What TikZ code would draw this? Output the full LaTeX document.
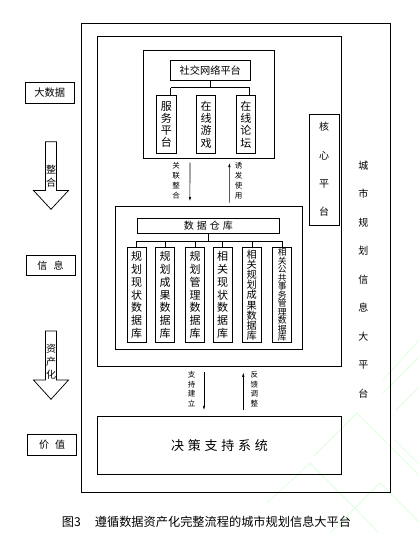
\documentclass[tikz,border=0pt]{standalone}
\usepackage{fontspec}
\setmainfont{Noto Sans CJK SC}
\usetikzlibrary{arrows.meta,calc}
\begin{document}
\begin{tikzpicture}[x=1pt,y=-1pt,
  box/.style={draw, line width=0.75pt, inner sep=0pt, align=center, anchor=center},
  txt/.style={inner sep=0pt, align=center},
  conn/.style={line width=0.6pt},
  arr/.style={line width=0.6pt, -{Latex[length=4.5pt,width=2.4pt]}},
  blockarrow/.style={draw, line width=0.75pt, fill=white},
  wm/.style={draw=green!18, line width=0.5pt}
]
\useasboundingbox (0,0) rectangle (419,533);
\fill[white] (0,0) rectangle (419,533);

% watermark
\draw[wm] (313.3,456.7) -- (356.7,413.3) -- (419,475.6);
\draw[wm] (266.7,503.3) -- (310,463.3) -- (356.7,510) -- (379,533);
\draw[wm] (330,533) -- (380,483) -- (419,522);
\draw[wm] (383,393) -- (419,357);
\draw[wm] (396,410) -- (419,387);
\draw[wm] (383,380) -- (419,340);
\draw[wm] (395,440) -- (419,464);

% outer platform frame
\node[box, minimum width=308.3, minimum height=469] (outer) at (235.85,257.8) {};
\node[box, minimum width=244.7, minimum height=330] (plat) at (219.35,201) {};

% social network group
\node[box, minimum width=131, minimum height=107.6] (social) at (208.8,104.5) {};
\node[box, minimum width=79.3, minimum height=20.7, font=\fontsize{10.2}{12}\selectfont] (sn) at (210.3,70.3) {社交网络平台};
\node[box, minimum width=19.5, minimum height=57.5, font=\fontsize{11}{12.3}\selectfont] (s1) at (166.3,124.5) {服\\务\\平\\台};
\node[box, minimum width=19.5, minimum height=57.5, font=\fontsize{11}{12.3}\selectfont] (s2) at (206,124.5) {在\\线\\游\\戏};
\node[box, minimum width=19.5, minimum height=57.5, font=\fontsize{11}{12.3}\selectfont] (s3) at (245.8,124.5) {在\\线\\论\\坛};
\coordinate (busL) at (170.7,87.7);
\coordinate (busR) at (249.7,87.7);
\draw[conn] (busL) -- (busR);
\draw[conn] (sn.south) -- (sn.south |- busL);
\draw[conn] (busL) -- (busL |- s1.north);
\draw[conn] (busR) -- (busR |- s3.north);

% core platform
\node[box, minimum width=29.7, minimum height=111, font=\fontsize{10}{28.3}\selectfont] (core) at (324.2,169.5) {核\\心\\平\\台};

% city vertical title
\node[txt, font=\fontsize{10}{28.45}\selectfont] (city) at (363.3,279.5) {城\\市\\规\\划\\信\\息\\大\\平\\台};

% data warehouse group
\node[box, minimum width=187.3, minimum height=143.3] (dw) at (208.7,277.7) {};
\node[box, minimum width=142, minimum height=15, font=\fontsize{10}{12}\selectfont] (dwt) at (208.3,225.8) {数\hspace{3pt}据\hspace{3pt}仓\hspace{3pt}库};
\node[box, minimum width=19, minimum height=95.4, font=\fontsize{11}{12.8}\selectfont] (d1) at (136.7,295) {规\\划\\现\\状\\数\\据\\库};
\node[box, minimum width=19, minimum height=95.4, font=\fontsize{11}{12.8}\selectfont] (d2) at (165.2,295) {规\\划\\成\\果\\数\\据\\库};
\node[box, minimum width=19, minimum height=95.4, font=\fontsize{11}{12.8}\selectfont] (d3) at (195.2,295) {规\\划\\管\\理\\数\\据\\库};
\node[box, minimum width=19, minimum height=95.4, font=\fontsize{11}{12.8}\selectfont] (d4) at (222.5,295) {相\\关\\现\\状\\数\\据\\库};
\node[box, minimum width=19, minimum height=95.4, font=\fontsize{10.2}{10.2}\selectfont] (d5) at (251.8,295) {相\\关\\规\\划\\成\\果\\数\\据\\库};
\node[box, minimum width=19, minimum height=95.4, font=\fontsize{8.8}{8.5}\selectfont] (d6) at (282.2,295) {相\\关\\公\\共\\事\\务\\管\\理\\数\\据\\库};
\coordinate (bus2L) at (136.7,241);
\coordinate (bus2R) at (282.2,241);
\draw[conn] (bus2L) -- (bus2R);
\draw[conn] (dwt.south) -- (dwt.south |- bus2L);
\foreach \n in {d1,d2,d3,d4,d5,d6} {
  \draw[conn] (\n.north |- bus2L) -- (\n.north);
}

% arrows between social and data warehouse
\draw[arr, shorten <=4pt, shorten >=4.3pt] ([xshift=-18.8pt]social.south) -- ([xshift=-18.8pt]dw.north);
\draw[arr, shorten <=3pt, shorten >=4pt] ([xshift=20.6pt]dw.north) -- ([xshift=20.6pt]social.south);
\node[txt, font=\fontsize{7.5}{10.1}\selectfont] (lbl1) at (176,180.9) {关\\联\\整\\合};
\node[txt, font=\fontsize{7.5}{10.1}\selectfont] (lbl2) at (238.7,180.9) {诱\\发\\使\\用};

% decision support system
\node[box, minimum width=244.4, minimum height=57.3, font=\fontsize{13}{15}\selectfont] (dss) at (219.5,445.3) {决\hspace{3.8pt}策\hspace{3.8pt}支\hspace{3.8pt}持\hspace{3.8pt}系\hspace{3.8pt}统};
\draw[arr, shorten <=5.7pt, shorten >=6pt] ([xshift=-15.35pt]plat.south) -- ([xshift=-15.5pt]dss.north);
\draw[arr, shorten <=6.5pt, shorten >=6pt] ([xshift=23.8pt]dss.north) -- ([xshift=23.95pt]plat.south);
\node[txt, font=\fontsize{7.5}{9.4}\selectfont] (lbl3) at (191.7,389) {支\\持\\建\\立};
\node[txt, font=\fontsize{7.5}{9.4}\selectfont] (lbl4) at (254.3,389) {反\\馈\\调\\整};

% left side stages
\node[box, minimum width=48.3, minimum height=20.6, font=\fontsize{10.3}{12}\selectfont] (big) at (49.8,93) {大数据};
\node[box, minimum width=49, minimum height=20.7, font=\fontsize{10}{12}\selectfont] (info) at (50.5,265.3) {信\hspace{6.5pt}息};
\node[box, minimum width=49, minimum height=20.6, font=\fontsize{10}{12}\selectfont] (val) at (52.2,445) {价\hspace{6pt}值};

\draw[blockarrow] (45.5,141.7) -- (56.5,141.7) -- (56.5,190.5) -- (68.5,190.5) -- (51,209.3) -- (33.5,190.5) -- (45.5,190.5) -- cycle;
\node[txt, font=\fontsize{10}{12.7}\selectfont] (zh) at (51,176.3) {整\\合};
\draw[blockarrow] (45.5,331) -- (56.5,331) -- (56.5,380) -- (68.5,380) -- (51,399.3) -- (33.5,380) -- (45.5,380) -- cycle;
\node[txt, font=\fontsize{10}{13.3}\selectfont] (zc) at (51,361.7) {资\\产\\化};

% caption
\node[txt, anchor=west, font=\fontsize{12.2}{14}\selectfont] (cap) at (61.7,521.7) {图3\hspace{14pt}遵循数据资产化完整流程的城市规划信息大平台};
\end{tikzpicture}
\end{document}
